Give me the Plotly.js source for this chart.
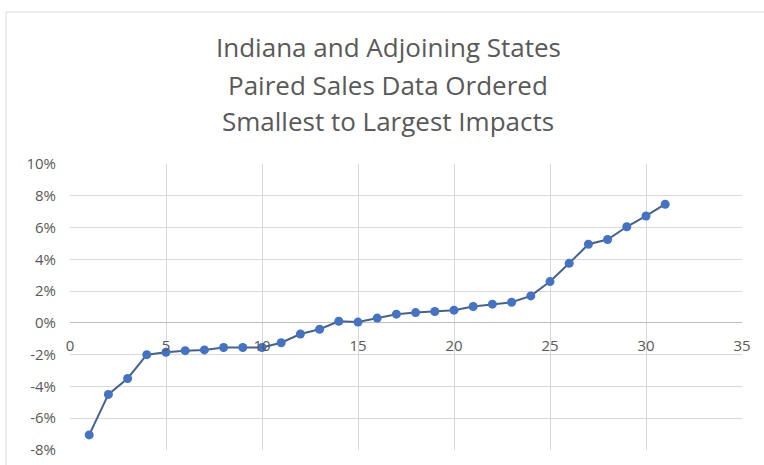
<!DOCTYPE html>
<html>
<head>
<meta charset="utf-8">
<script src="https://cdn.plot.ly/plotly-3.0.1.min.js"></script>
<style>html,body{margin:0;padding:0;background:#fff;}#chart{width:764px;height:465px;}</style>
</head>
<body>
<div id="chart"></div>
<script>
// Data
const pairIndex = [1,2,3,4,5,6,7,8,9,10,11,12,13,14,15,16,17,18,19,20,21,22,23,24,25,26,27,28,29,30,31];
const impactPct = [-7.05,-4.5,-3.5,-2.0,-1.85,-1.75,-1.7,-1.55,-1.55,-1.55,-1.25,-0.7,-0.4,0.1,0.05,0.3,0.55,0.65,0.72,0.8,1.03,1.18,1.3,1.7,2.6,3.75,4.95,5.25,6.05,6.73,7.47];
const titleLines = ["Indiana and Adjoining States","Paired Sales Data Ordered","Smallest to Largest Impacts"];
const xTicks = [0,5,10,15,20,25,30,35];
const yTicks = [-8,-6,-4,-2,0,2,4,6,8,10];

const FONT = "'Open Sans', 'Liberation Sans', sans-serif";
const titleY = [47, 85, 121];
const plotTop = 164, plotBottom = 450;

const annotations = titleLines.map((t, i) => ({
  text: t, xref: 'paper', yref: 'paper',
  x: (388 - 70) / (742 - 70), y: (plotBottom - titleY[i]) / (plotBottom - plotTop),
  xanchor: 'center', yanchor: 'middle', showarrow: false,
  font: {family: FONT, size: 26, color: '#595959'}
}));

const trace = {
  x: pairIndex, y: impactPct, type: 'scatter', mode: 'lines+markers',
  line: {color: '#45628f', width: 2},
  marker: {color: '#4472c4', size: 9},
  hoverinfo: 'x+y'
};

const layout = {
  width: 764, height: 465,
  margin: {l: 70, r: 22, t: plotTop, b: 465 - plotBottom},
  paper_bgcolor: '#ffffff', plot_bgcolor: '#ffffff',
  showlegend: false,
  font: {family: FONT, color: '#595959', size: 15},
  xaxis: {
    range: [0, 35], tickvals: xTicks, ticktext: xTicks.map(String),
    anchor: 'free', position: 8 / 18,
    showgrid: true, gridcolor: '#d9d9d9', gridwidth: 1,
    zeroline: false, showline: false, ticks: '',
    ticklabelstandoff: 12,
    tickfont: {family: FONT, size: 15, color: '#595959'}
  },
  yaxis: {
    range: [-8, 10], tickvals: yTicks, ticktext: yTicks.map(v => v + '%'),
    showgrid: true, gridcolor: '#d9d9d9', gridwidth: 1,
    zeroline: true, zerolinecolor: '#bfbfbf', zerolinewidth: 1,
    showline: false, ticks: '', ticklabelstandoff: 13,
    tickfont: {family: FONT, size: 15, color: '#595959'}
  },
  annotations: annotations,
  shapes: [{
    type: 'rect', xref: 'paper', yref: 'paper',
    x0: (6 - 70) / 672, x1: (800 - 70) / 672,
    y0: (450 - 500) / 286, y1: (450 - 12) / 286,
    line: {color: '#d9d9d9', width: 1}, fillcolor: 'rgba(0,0,0,0)', layer: 'below'
  }]
};

Plotly.newPlot('chart', [trace], layout, {displayModeBar: false, staticPlot: true});
</script>
</body>
</html>
